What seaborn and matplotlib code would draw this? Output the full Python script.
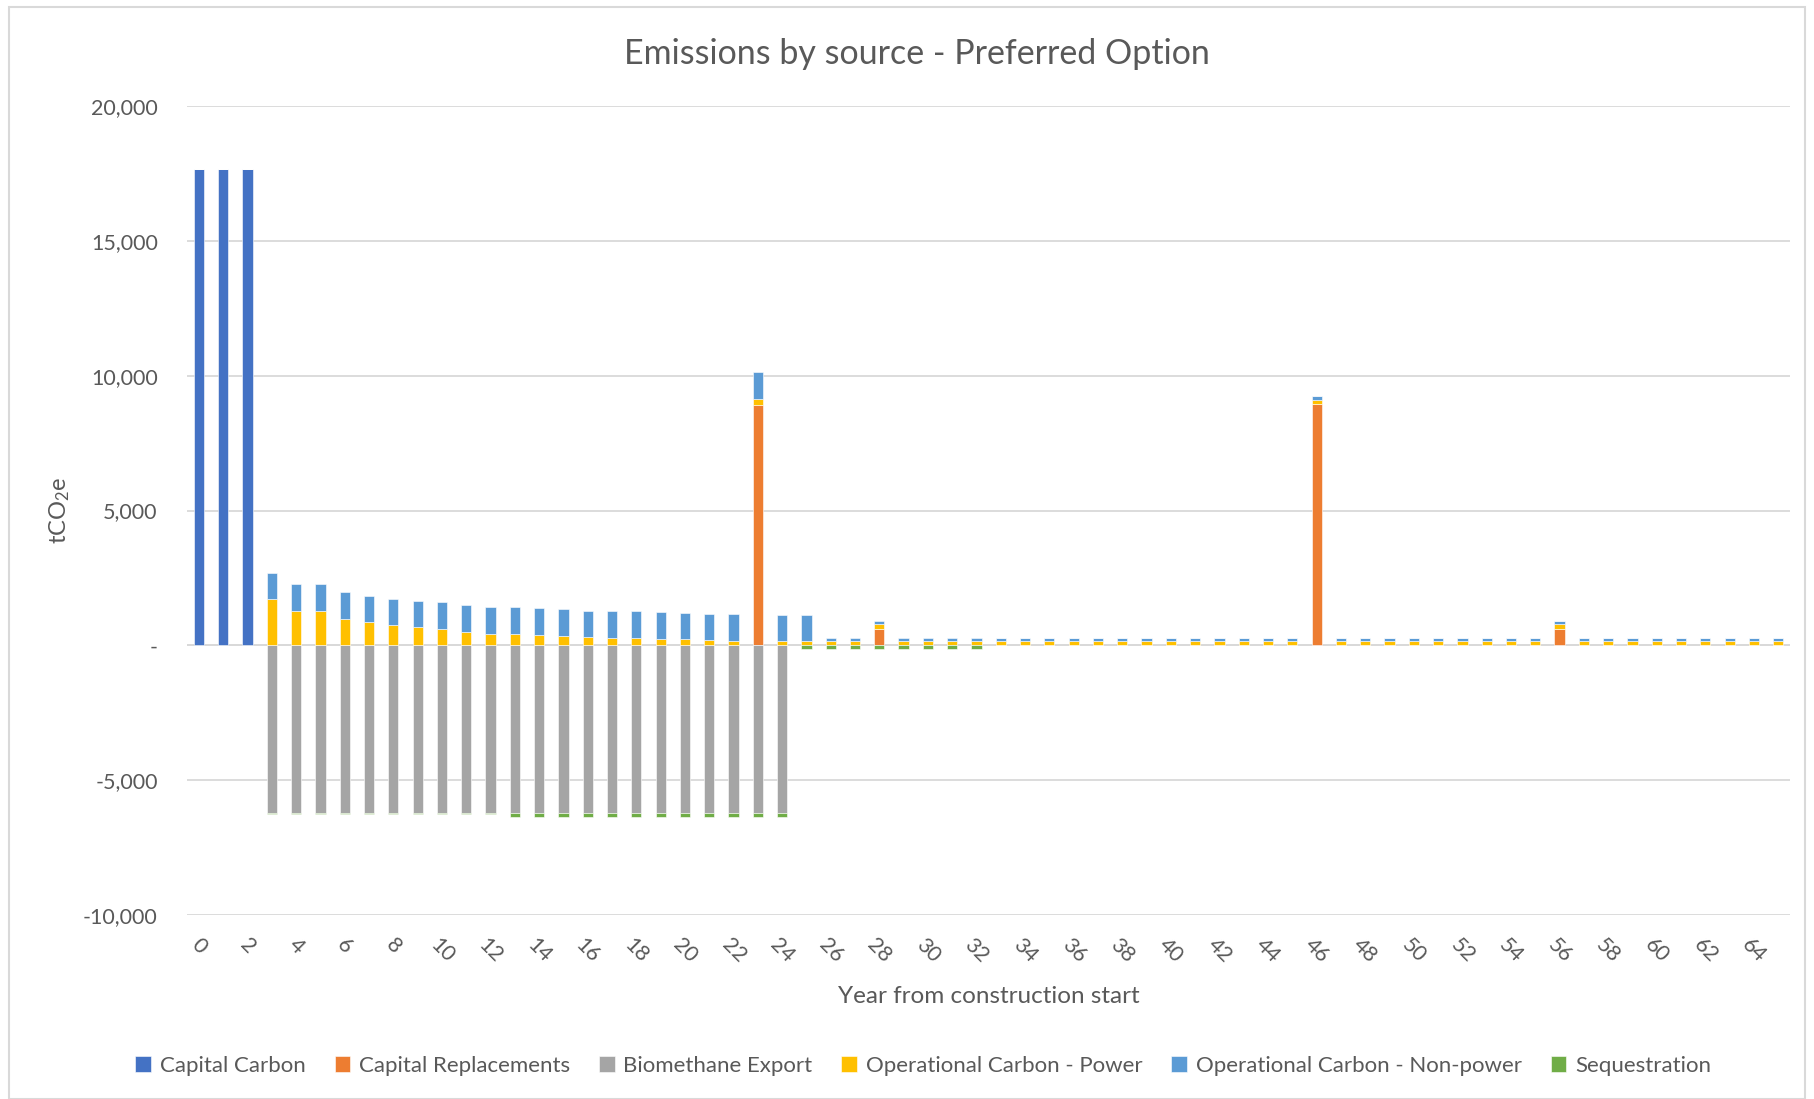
import numpy as np
import seaborn as sns
import matplotlib.pyplot as plt
from matplotlib.patches import Rectangle
from matplotlib.ticker import FuncFormatter
from matplotlib.transforms import ScaledTranslation

# years 0..65 from construction start
years = list(range(66))

capital_carbon = [
    17670, 17670, 17670, 0, 0, 0, 0, 0, 0, 0, 0,
    0, 0, 0, 0, 0, 0, 0, 0, 0, 0, 0,
    0, 0, 0, 0, 0, 0, 0, 0, 0, 0, 0,
    0, 0, 0, 0, 0, 0, 0, 0, 0, 0, 0,
    0, 0, 0, 0, 0, 0, 0, 0, 0, 0, 0,
    0, 0, 0, 0, 0, 0, 0, 0, 0, 0, 0,
]
capital_replacements = [
    0, 0, 0, 0, 0, 0, 0, 0, 0, 0, 0,
    0, 0, 0, 0, 0, 0, 0, 0, 0, 0, 0,
    0, 8920, 0, 0, 0, 0, 620, 0, 0, 0, 0,
    0, 0, 0, 0, 0, 0, 0, 0, 0, 0, 0,
    0, 0, 8940, 0, 0, 0, 0, 0, 0, 0, 0,
    0, 620, 0, 0, 0, 0, 0, 0, 0, 0, 0,
]
biomethane_export = [
    0, 0, 0, -6210, -6210, -6210, -6210, -6210, -6210, -6210, -6210,
    -6210, -6210, -6210, -6210, -6210, -6210, -6210, -6210, -6210, -6210, -6210,
    -6210, -6210, -6210, 0, 0, 0, 0, 0, 0, 0, 0,
    0, 0, 0, 0, 0, 0, 0, 0, 0, 0, 0,
    0, 0, 0, 0, 0, 0, 0, 0, 0, 0, 0,
    0, 0, 0, 0, 0, 0, 0, 0, 0, 0, 0,
]
op_power = [
    0, 0, 0, 1720, 1285, 1285, 995, 865, 765, 685, 605,
    495, 435, 420, 395, 360, 310, 285, 285, 245, 220, 195,
    170, 210, 145, 145, 150, 150, 160, 150, 150, 150, 150,
    150, 150, 150, 150, 150, 150, 150, 150, 150, 150, 150,
    150, 150, 170, 150, 150, 150, 150, 150, 150, 150, 150,
    150, 170, 150, 150, 150, 150, 150, 150, 150, 150, 150,
]
op_nonpower = [
    0, 0, 0, 980, 975, 975, 995, 975, 965, 970, 985,
    985, 985, 990, 990, 985, 970, 980, 975, 990, 980, 980,
    985, 990, 985, 985, 115, 115, 120, 115, 115, 115, 115,
    115, 115, 115, 115, 115, 115, 115, 115, 115, 115, 115,
    115, 115, 135, 115, 115, 115, 115, 115, 115, 115, 115,
    115, 120, 115, 115, 115, 115, 115, 115, 115, 115, 115,
]
sequestration = [
    0, 0, 0, -40, -40, -40, -40, -40, -40, -40, -40,
    -40, -40, -150, -150, -150, -150, -150, -150, -150, -150, -150,
    -150, -150, -150, -140, -140, -140, -140, -140, -140, -140, -140,
    0, 0, 0, 0, 0, 0, 0, 0, 0, 0, 0,
    0, 0, 0, 0, 0, 0, 0, 0, 0, 0, 0,
    0, 0, 0, 0, 0, 0, 0, 0, 0, 0, 0,
]

series_names = ['Capital Carbon', 'Capital Replacements', 'Biomethane Export',
                'Operational Carbon - Power', 'Operational Carbon - Non-power',
                'Sequestration']
series_colors = ['#4472C4', '#ED7D31', '#A5A5A5', '#FFC000', '#5B9BD5', '#70AD47']
series = [capital_carbon, capital_replacements, biomethane_export,
          op_power, op_nonpower, sequestration]

sns.set_theme(style='white')
plt.rcParams['font.family'] = ['Lato', 'DejaVu Sans']
plt.rcParams['mathtext.default'] = 'regular'
text_color = '#595959'

fig = plt.figure(figsize=(18.14, 10.99), dpi=100)
ax = fig.add_axes([0.103, 0.1674, 0.884, 0.7361])

# stack positives up and negatives down, like Excel does
pos_bottom = np.zeros(len(years))
neg_bottom = np.zeros(len(years))
for name, color, vals in zip(series_names, series_colors, series):
    v = np.array(vals, dtype=float)
    bottom = np.where(v >= 0, pos_bottom, neg_bottom)
    ax.bar(years, v, width=0.42, bottom=bottom, color=color, label=name,
           edgecolor='white', linewidth=0.4, zorder=3)
    pos_bottom += np.clip(v, 0, None)
    neg_bottom += np.clip(v, None, 0)

ax.set_xlim(-0.5, 65.5)
ax.set_ylim(-10000, 20000)
ax.set_yticks(range(-10000, 20001, 5000))
ax.yaxis.set_major_formatter(FuncFormatter(lambda v, p: '-' if v == 0 else f'{v:,.0f}'))
ax.yaxis.grid(True, color='#D9D9D9', linewidth=1.3, zorder=0)
ax.axhline(0, color='#D9D9D9', linewidth=1.3, zorder=1)
for s in ax.spines.values():
    s.set_visible(False)

ax.set_xticks(years[::2][:33])
ax.set_xticklabels([str(y) for y in years[::2][:33]], rotation=-45,
                   ha='center', va='top')
shift = ScaledTranslation(4 / 100, 0, fig.dpi_scale_trans)
for lab in ax.get_xticklabels():
    lab.set_transform(lab.get_transform() + shift)
ax.tick_params(axis='both', length=0, labelsize=15.5, colors=text_color)
ax.tick_params(axis='y', pad=21)
ax.tick_params(axis='x', pad=14)

ax.set_xlabel('Year from construction start', fontsize=17.5, color=text_color, labelpad=14)
ax.set_ylabel('tCO$_2$e', fontsize=17, color=text_color, labelpad=8)
fig.text(0.5057, 0.951, 'Emissions by source - Preferred Option', ha='center', va='center',
         fontsize=24.5, color=text_color)

ax.legend(loc='center', bbox_to_anchor=(0.509, 0.03), bbox_transform=fig.transFigure,
          ncol=6, frameon=False, fontsize=16, handlelength=0.7, handleheight=0.7,
          handletextpad=0.4, columnspacing=1.3, labelcolor=text_color)

fig.patches.append(Rectangle((0.005, 0.0), 0.99, 0.994, transform=fig.transFigure,
                             fill=False, edgecolor='#D9D9D9', linewidth=1.5))

fig.savefig('out.png', dpi=100)
